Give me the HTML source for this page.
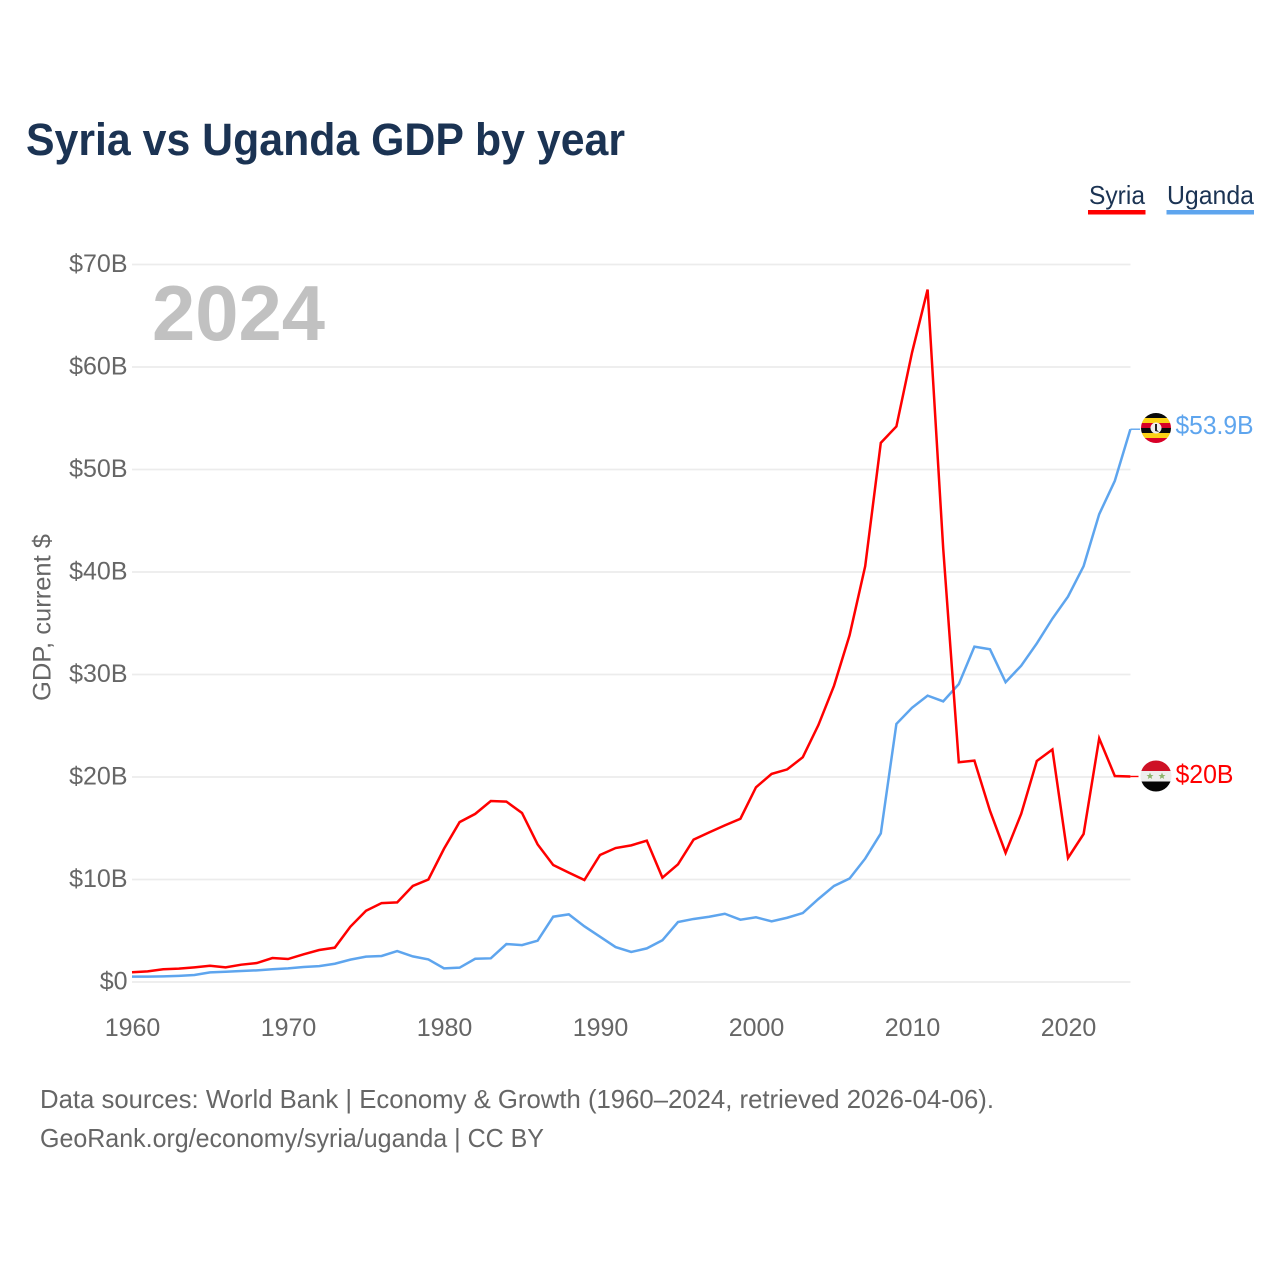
<!DOCTYPE html>
<html lang="en">
<head>
<meta charset="utf-8">
<title>Syria vs Uganda GDP by year</title>
<style>
  html, body { margin: 0; padding: 0; background: #fff; }
  svg { display: block; font-family: "Liberation Sans", sans-serif; }
</style>
</head>
<body>
<svg id="chart" width="1280" height="1280" viewBox="0 0 1280 1280" xmlns="http://www.w3.org/2000/svg">
  <rect x="0" y="0" width="1280" height="1280" fill="#ffffff"/>
  <text x="26" y="155" font-size="45" font-weight="700" fill="#1b3353" textLength="599" lengthAdjust="spacingAndGlyphs">Syria vs Uganda GDP by year</text>

  <g>
    <g>
      <text x="1089" y="204" font-size="26" fill="#1b3353" textLength="56" lengthAdjust="spacingAndGlyphs">Syria</text>
      <rect x="1088" y="210" width="57.5" height="4.5" fill="#ff0000"/>
    </g>
    <g>
      <text x="1167" y="204" font-size="26" fill="#1b3353" textLength="87" lengthAdjust="spacingAndGlyphs">Uganda</text>
      <rect x="1166.5" y="210" width="87.5" height="4.5" fill="#5ea5ee"/>
    </g>
  </g>

  <g id="grid"></g>
  <g id="yticks"></g>
  <g id="xticks"></g>

  <text x="152" y="340" font-size="78" font-weight="700" fill="#c1c1c1" textLength="173" lengthAdjust="spacingAndGlyphs">2024</text>
  <text transform="translate(50.5,701) rotate(-90)" font-size="25" fill="#666666" textLength="167" lengthAdjust="spacingAndGlyphs">GDP, current $</text>

  <g id="series"></g>

  <g id="flag-uganda">
    <clipPath id="clip-ug"><circle cx="1156" cy="428" r="15"/></clipPath>
    <g clip-path="url(#clip-ug)">
      <rect x="1141" y="413" width="30" height="5" fill="#0a0a0a"/>
      <rect x="1141" y="418" width="30" height="5" fill="#fcd116"/>
      <rect x="1141" y="423" width="30" height="5" fill="#d80027"/>
      <rect x="1141" y="428" width="30" height="5" fill="#0a0a0a"/>
      <rect x="1141" y="433" width="30" height="5" fill="#fcd116"/>
      <rect x="1141" y="438" width="30" height="5" fill="#d80027"/>
      <circle cx="1156" cy="428" r="5.5" fill="#eeeeee"/>
      <path d="M1155 424 L1157 424 L1157 430 L1159 432 L1155 431 Z" fill="#222222"/>
    </g>
  </g>
  <g id="flag-syria">
    <clipPath id="clip-sy"><circle cx="1156" cy="776" r="15.5"/></clipPath>
    <g clip-path="url(#clip-sy)">
      <rect x="1140" y="760" width="32" height="11" fill="#ce1126"/>
      <rect x="1140" y="771" width="32" height="10.5" fill="#eeeeee"/>
      <rect x="1140" y="781.5" width="32" height="11" fill="#050505"/>
      <polygon points="1150,772.5 1151,775 1153.5,775 1151.5,776.6 1152.2,779 1150,777.6 1147.8,779 1148.5,776.6 1146.5,775 1149,775" fill="#8db36b"/>
      <polygon points="1162,772.5 1163,775 1165.5,775 1163.5,776.6 1164.2,779 1162,777.6 1159.8,779 1160.5,776.6 1158.5,775 1161,775" fill="#8db36b"/>
    </g>
  </g>

  <text x="1175.5" y="434" font-size="26" fill="#5ea5ee" textLength="78" lengthAdjust="spacingAndGlyphs">$53.9B</text>
  <text x="1175.5" y="783" font-size="26" fill="#ff0000" textLength="58" lengthAdjust="spacingAndGlyphs">$20B</text>

  <g>
    <text x="40" y="1108" font-size="26" fill="#666666" textLength="954" lengthAdjust="spacingAndGlyphs">Data sources: World Bank | Economy &amp; Growth (1960–2024, retrieved 2026-04-06).</text>
    <text x="40" y="1147" font-size="26" fill="#666666" textLength="504" lengthAdjust="spacingAndGlyphs">GeoRank.org/economy/syria/uganda | CC BY</text>
  </g>
</svg>

<script>
const startYear = 1960;
const yTickValues = [0, 10, 20, 30, 40, 50, 60, 70];
const yTickLabels = ["$0", "$10B", "$20B", "$30B", "$40B", "$50B", "$60B", "$70B"];
const xTickValues = [1960, 1970, 1980, 1990, 2000, 2010, 2020];
const xTickLabels = ["1960", "1970", "1980", "1990", "2000", "2010", "2020"];
const syriaValues = [
  0.95, 1.04, 1.24, 1.3, 1.43, 1.59, 1.43, 1.69, 1.85, 2.34,
  2.24, 2.7, 3.12, 3.35, 5.4, 6.95, 7.7, 7.77, 9.37, 10.0,
  13.0, 15.6, 16.4, 17.66, 17.6, 16.49, 13.43, 11.41, 10.67, 9.95,
  12.39, 13.07, 13.33, 13.79, 10.18, 11.48, 13.89, 14.6, 15.28, 15.93,
  19.0, 20.3, 20.74, 21.93, 25.07, 28.9, 33.84, 40.57, 52.6, 54.2,
  61.4, 67.55, 42.3, 21.44, 21.6, 16.7, 12.6, 16.41, 21.56, 22.68,
  12.1, 14.44, 23.77, 20.1, 20.05
];
const ugandaValues = [
  0.52, 0.52, 0.55, 0.6, 0.68, 0.94, 1.0, 1.07, 1.14, 1.24,
  1.33, 1.46, 1.55, 1.78, 2.18, 2.47, 2.54, 3.02, 2.5, 2.2,
  1.33, 1.4, 2.27, 2.31, 3.7, 3.6, 4.03, 6.37, 6.6, 5.43,
  4.42, 3.41, 2.93, 3.28, 4.07, 5.85, 6.15, 6.37, 6.66, 6.08,
  6.31, 5.92, 6.27, 6.73, 8.1, 9.37, 10.1, 12.04, 14.5, 25.18,
  26.75, 27.94, 27.38, 29.06, 32.72, 32.46, 29.25, 30.86, 33.03, 35.45,
  37.6, 40.57, 45.64, 48.89, 53.93
];

const NS = "http://www.w3.org/2000/svg";
function xScale(year) { return 132 + (year - 1960) * 15.6; }
function yScale(v) { return 982 - v * 10.25; }
function seriesPoints(values) {
  return values.map(function (v, i) {
    return xScale(startYear + i).toFixed(2) + "," + yScale(v).toFixed(2);
  }).join(" ");
}

const gridGroup = document.getElementById("grid");
const yGroup = document.getElementById("yticks");
const xGroup = document.getElementById("xticks");
const seriesGroup = document.getElementById("series");

yTickValues.forEach(function (v, i) {
  const line = document.createElementNS(NS, "line");
  
  
  line.setAttribute("x1", 132);
  line.setAttribute("x2", 1130.5);
  line.setAttribute("y1", yScale(v));
  line.setAttribute("y2", yScale(v));
  line.setAttribute("stroke", "#ececec");
  line.setAttribute("stroke-width", 1.8);
  gridGroup.appendChild(line);

  const label = document.createElementNS(NS, "text");
  
  
  label.setAttribute("x", 127.5);
  label.setAttribute("y", yScale(v) + 7.5);
  label.setAttribute("text-anchor", "end");
  label.setAttribute("font-size", 25);
  label.setAttribute("fill", "#666666");
  label.textContent = yTickLabels[i];
  yGroup.appendChild(label);
});

xTickValues.forEach(function (year, i) {
  const label = document.createElementNS(NS, "text");
  
  
  label.setAttribute("x", xScale(year) + 0.5);
  label.setAttribute("y", 1036);
  label.setAttribute("text-anchor", "middle");
  label.setAttribute("font-size", 25);
  label.setAttribute("fill", "#666666");
  label.textContent = xTickLabels[i];
  xGroup.appendChild(label);
});

const ugandaLine = document.createElementNS(NS, "polyline");


ugandaLine.setAttribute("points", seriesPoints(ugandaValues));
ugandaLine.setAttribute("fill", "none");
ugandaLine.setAttribute("stroke", "#5ea5ee");
ugandaLine.setAttribute("stroke-width", 2.5);
seriesGroup.appendChild(ugandaLine);

const syriaLine = document.createElementNS(NS, "polyline");


syriaLine.setAttribute("points", seriesPoints(syriaValues));
syriaLine.setAttribute("fill", "none");
syriaLine.setAttribute("stroke", "#ff0000");
syriaLine.setAttribute("stroke-width", 2.5);
seriesGroup.appendChild(syriaLine);

const ugandaConnector = document.createElementNS(NS, "line");


ugandaConnector.setAttribute("x1", xScale(2024));
ugandaConnector.setAttribute("x2", 1140);
ugandaConnector.setAttribute("y1", yScale(ugandaValues[ugandaValues.length - 1]));
ugandaConnector.setAttribute("y2", yScale(ugandaValues[ugandaValues.length - 1]));
ugandaConnector.setAttribute("stroke", "#5ea5ee");
ugandaConnector.setAttribute("stroke-width", 1.4);
seriesGroup.appendChild(ugandaConnector);

const syriaConnector = document.createElementNS(NS, "line");


syriaConnector.setAttribute("x1", xScale(2024));
syriaConnector.setAttribute("x2", 1138.5);
syriaConnector.setAttribute("y1", yScale(syriaValues[syriaValues.length - 1]));
syriaConnector.setAttribute("y2", yScale(syriaValues[syriaValues.length - 1]));
syriaConnector.setAttribute("stroke", "#ff0000");
syriaConnector.setAttribute("stroke-width", 1.4);
seriesGroup.appendChild(syriaConnector);
</script>
</body>
</html>
